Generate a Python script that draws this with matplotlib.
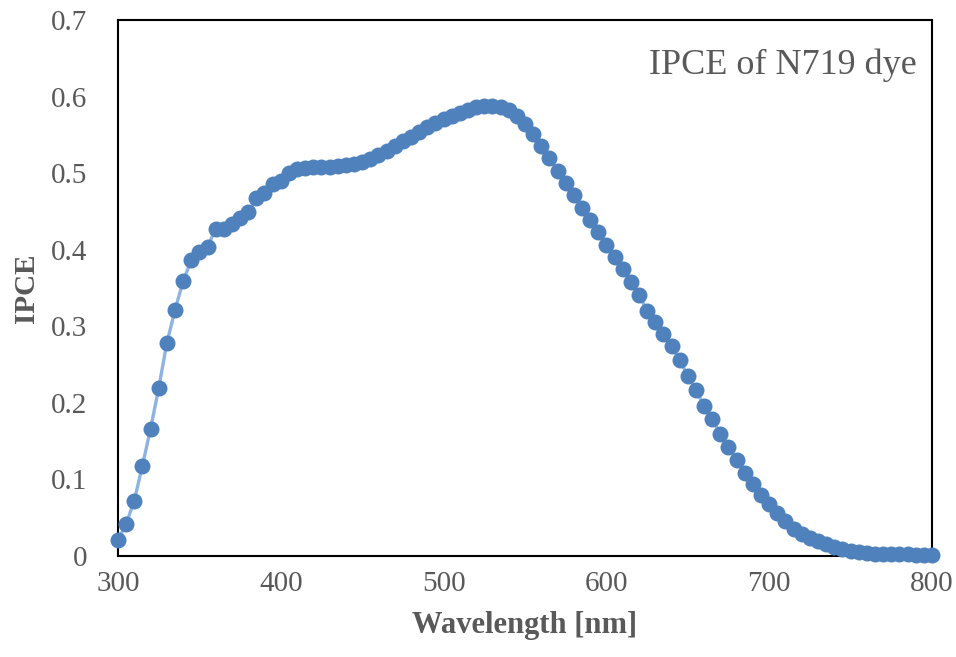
import matplotlib
matplotlib.use("Agg")
import matplotlib.pyplot as plt
import numpy as np

# wavelength in nm, every 5 nm
wavelength = np.arange(300, 805, 5)

# IPCE values
ipce = [
    0.021, 0.042, 0.072, 0.118, 0.166, 0.219, 0.278, 0.321, 0.359, 0.386,
    0.397, 0.404, 0.427, 0.427, 0.434, 0.441, 0.449, 0.467, 0.474, 0.486,
    0.490, 0.500, 0.505, 0.507, 0.508, 0.508, 0.508, 0.509, 0.510, 0.512,
    0.514, 0.518, 0.524, 0.529, 0.535, 0.542, 0.547, 0.554, 0.560, 0.565,
    0.571, 0.574, 0.578, 0.582, 0.586, 0.588, 0.588, 0.586, 0.582, 0.575,
    0.564, 0.551, 0.535, 0.520, 0.503, 0.487, 0.471, 0.454, 0.439, 0.423,
    0.406, 0.390, 0.375, 0.358, 0.341, 0.320, 0.305, 0.290, 0.274, 0.256,
    0.235, 0.217, 0.196, 0.179, 0.159, 0.142, 0.125, 0.108, 0.094, 0.080,
    0.068, 0.056, 0.046, 0.035, 0.029, 0.024, 0.020, 0.016, 0.012, 0.009,
    0.007, 0.005, 0.004, 0.003, 0.003, 0.002, 0.002, 0.002, 0.001, 0.001,
    0.001,
]

xticks = [300, 400, 500, 600, 700, 800]
yticks = [0, 0.1, 0.2, 0.3, 0.4, 0.5, 0.6, 0.7]
ytick_labels = ["0", "0.1", "0.2", "0.3", "0.4", "0.5", "0.6", "0.7"]

plt.rcParams['font.family'] = ['Liberation Serif', 'DejaVu Serif']

fig = plt.figure(figsize=(9.56, 6.57), dpi=100)
ax = fig.add_axes([0.1234, 0.1537, 0.8515, 0.8159])

ax.plot(wavelength, ipce, color='#8DB3E2', linewidth=2.4, zorder=2)
ax.plot(wavelength, ipce, linestyle='none', marker='o', markersize=11.5,
        color='#4F81BD', markeredgewidth=0, zorder=3, clip_on=False)

ax.set_xlim(300, 800)
ax.set_ylim(0, 0.7)
ax.set_xticks(xticks)
ax.set_xticklabels([str(t) for t in xticks])
ax.set_yticks(yticks)
ax.set_yticklabels(ytick_labels)

ax.tick_params(axis='both', length=0, labelsize=21, labelcolor='#595959')
ax.tick_params(axis='x', pad=11)
ax.tick_params(axis='y', pad=22)

for s in ax.spines.values():
    s.set_color('black')
    s.set_linewidth(1.5)

ax.set_xlabel('Wavelength [nm]', fontsize=22, fontweight='bold',
              color='#595959', labelpad=10)
ax.set_ylabel('IPCE', fontsize=21, fontweight='bold', color='#595959',
              labelpad=8)

ax.text(0.981, 0.915, 'IPCE of N719 dye', transform=ax.transAxes,
        ha='right', va='center', fontsize=26, color='#595959')

fig.savefig('out.png', dpi=100)
